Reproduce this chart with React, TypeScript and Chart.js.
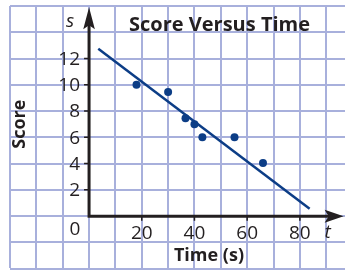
import React, { useEffect, useRef } from "react";
import { Chart, registerables } from "chart.js";

Chart.register(...registerables);

// ---- data ----
const timeValues = [18, 30, 36.6, 40, 43, 55.2, 66];
const scoreValues = [10, 9.45, 7.45, 7, 6, 6, 4.05];
const trendTime = [3.5, 83.7];
const trendScore = [12.75, 0.57];
const xGridValues = [-30, -20, -10, 0, 10, 20, 30, 40, 50, 60, 70, 80, 90];
const yGridValues = [-4, -2, 0, 2, 4, 6, 8, 10, 12, 14, 16];
const xTickLabels = [20, 40, 60, 80];
const yTickLabels = [2, 4, 6, 8, 10, 12];
const titleText = "Score Versus Time";
const xAxisTitle = "Time (s)";
const yAxisTitle = "Score";
const xVarLabel = "t";
const yVarLabel = "s";

const INK = "#231f20";
const DOT = "#0c3d86";
const GRID = "rgb(168,176,220)";
const FONT = "'Open Sans', 'Noto Sans', sans-serif";

const axesPlugin = {
  id: "customAxes",
  beforeDatasetsDraw(chart: any) {
    const { ctx } = chart;
    const xs = chart.scales.x;
    const ys = chart.scales.y;
    const x0 = xs.getPixelForValue(0);
    const y0 = ys.getPixelForValue(0);
    const xTip = xs.getPixelForValue(96.6);
    const yTip = ys.getPixelForValue(15.9);
    ctx.save();
    ctx.strokeStyle = INK;
    ctx.fillStyle = INK;
    // tick marks
    ctx.lineWidth = 1.5;
    ctx.beginPath();
    yTickLabels.forEach((v) => {
      const py = ys.getPixelForValue(v);
      ctx.moveTo(x0 - 5, py);
      ctx.lineTo(x0, py);
    });
    xTickLabels.forEach((v) => {
      const px = xs.getPixelForValue(v);
      ctx.moveTo(px, y0);
      ctx.lineTo(px, y0 + 4.5);
    });
    ctx.stroke();
    // axis lines
    ctx.lineWidth = 3;
    ctx.lineJoin = "miter";
    ctx.beginPath();
    ctx.moveTo(x0, yTip + 12);
    ctx.lineTo(x0, y0);
    ctx.lineTo(xTip - 10, y0);
    ctx.stroke();
    // y arrow
    ctx.beginPath();
    ctx.moveTo(x0, yTip);
    ctx.lineTo(x0 + 5.8, yTip + 22);
    ctx.lineTo(x0, yTip + 18);
    ctx.lineTo(x0 - 5.8, yTip + 22);
    ctx.closePath();
    ctx.fill();
    // x arrow
    ctx.beginPath();
    ctx.moveTo(xTip, y0);
    ctx.lineTo(xTip - 19, y0 - 6.5);
    ctx.lineTo(xTip - 15, y0);
    ctx.lineTo(xTip - 19, y0 + 6.5);
    ctx.closePath();
    ctx.fill();
    ctx.restore();
  },
  afterDatasetsDraw(chart: any) {
    const { ctx } = chart;
    const xs = chart.scales.x;
    const ys = chart.scales.y;
    const x0 = xs.getPixelForValue(0);
    const y0 = ys.getPixelForValue(0);
    ctx.save();
    ctx.fillStyle = INK;
    // y tick labels
    ctx.font = `19px ${FONT}`;
    ctx.textAlign = "right";
    ctx.textBaseline = "middle";
    yTickLabels.forEach((v) => {
      ctx.fillText(String(v), x0 - 9, ys.getPixelForValue(v) + 1);
    });
    // origin label
    ctx.textAlign = "center";
    ctx.fillText("0", x0 - 14, y0 + 13);
    // x tick labels
    xTickLabels.forEach((v) => {
      ctx.fillText(String(v), xs.getPixelForValue(v), y0 + 17);
    });
    // variable labels
    ctx.font = `italic 19px ${FONT}`;
    ctx.fillText(yVarLabel, x0 - 19, ys.getPixelForValue(15) + 2);
    ctx.fillText(xVarLabel, xs.getPixelForValue(90.5), y0 + 16);
    // title
    ctx.font = `bold 20px ${FONT}`;
    ctx.fillText(titleText, xs.getPixelForValue(49.5), ys.getPixelForValue(15) + 6);
    // x axis title
    ctx.font = `bold 18px ${FONT}`;
    ctx.fillText(xAxisTitle, xs.getPixelForValue(45.5), ys.getPixelForValue(-3));
    // y axis title
    ctx.translate(xs.getPixelForValue(-26.3), ys.getPixelForValue(7));
    ctx.rotate(-Math.PI / 2);
    ctx.fillText(yAxisTitle, 0, 0);
    ctx.restore();
  },
};

export default function App() {
  const ref = useRef<HTMLCanvasElement | null>(null);
  useEffect(() => {
    if (!ref.current) return;
    const chart = new Chart(ref.current, {
      type: "scatter",
      data: {
        datasets: [
          {
            type: "line",
            data: trendTime.map((t, i) => ({ x: t, y: trendScore[i] })),
            borderColor: DOT,
            borderWidth: 2.5,
            pointRadius: 0,
            fill: false,
          },
          {
            type: "scatter",
            data: timeValues.map((t, i) => ({ x: t, y: scoreValues[i] })),
            backgroundColor: DOT,
            borderColor: DOT,
            pointRadius: 4,
            pointBorderWidth: 0,
          },
        ],
      },
      options: {
        responsive: false,
        animation: false,
        devicePixelRatio: 1,
        layout: { padding: { left: 10, top: 6, right: 0, bottom: 0 } },
        plugins: {
          legend: { display: false },
          tooltip: { enabled: false },
          title: { display: false },
        },
        scales: {
          x: {
            type: "linear",
            min: -30,
            max: 97.125,
            afterBuildTicks: (s: any) => {
              s.ticks = xGridValues.map((v) => ({ value: v }));
            },
            ticks: { display: false },
            grid: { color: GRID, lineWidth: 2, drawTicks: false },
            border: { display: false },
          },
          y: {
            type: "linear",
            min: -3.95,
            max: 16,
            afterBuildTicks: (s: any) => {
              s.ticks = yGridValues.map((v) => ({ value: v }));
            },
            ticks: { display: false },
            grid: { color: GRID, lineWidth: 2, drawTicks: false },
            border: { display: false },
          },
        },
      },
      plugins: [axesPlugin],
    } as any);
    return () => chart.destroy();
  }, []);
  return (
    <div style={{ position: "absolute", left: 0, top: 0, width: 349, height: 272, background: "#fff" }}>
      <canvas ref={ref} width={349} height={272} />
    </div>
  );
}
